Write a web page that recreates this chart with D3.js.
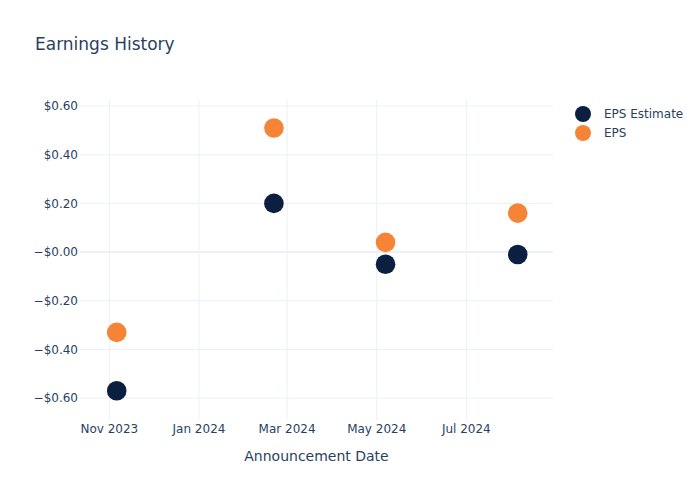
<!DOCTYPE html>
<html>
<head>
<meta charset="utf-8">
<script src="https://cdn.jsdelivr.net/npm/d3@7"></script>
<style>
  body { margin: 0; background: #fff; }
  svg text { font-family: "DejaVu Sans", Verdana, Arial, sans-serif; fill: #2a3f5f; }
</style>
</head>
<body>
<svg id="chart" width="700" height="500"></svg>
<script>
const dates = ["2023-11-06", "2024-02-21", "2024-05-07", "2024-08-05"];
const epsEstimate = [-0.57, 0.20, -0.05, -0.01];
const eps = [-0.33, 0.51, 0.04, 0.16];
const yTickValues = [0.6, 0.4, 0.2, 0, -0.2, -0.4, -0.6];
const yTickLabels = ["$0.60", "$0.40", "$0.20", "\u2212$0.00", "\u2212$0.20", "\u2212$0.40", "\u2212$0.60"];
const xTickDates = ["2023-11-01", "2024-01-01", "2024-03-01", "2024-05-01", "2024-07-01"];
const xTickLabels = ["Nov 2023", "Jan 2024", "Mar 2024", "May 2024", "Jul 2024"];
const seriesNames = ["EPS Estimate", "EPS"];
const seriesColors = ["#0b1f41", "#f58436"];

const parse = d3.utcParse("%Y-%m-%d");
const svg = d3.select("#chart");
const m = { left: 80, right: 553, top: 100, bottom: 420 };

const x = d3.scaleUtc()
  .domain([parse("2023-10-12"), parse("2024-08-29")])
  .range([m.left, m.right]);
const y = d3.scaleLinear()
  .domain([-0.69, 0.625])
  .range([m.bottom, m.top]);

// grid
const g = svg.append("g");
g.selectAll(".vg").data(xTickDates).join("line")
  .attr("x1", d => x(parse(d))).attr("x2", d => x(parse(d)))
  .attr("y1", m.top).attr("y2", m.bottom)
  .attr("stroke", "#ebf0f8").attr("stroke-width", 1);
g.selectAll(".hg").data(yTickValues).join("line")
  .attr("x1", m.left).attr("x2", m.right)
  .attr("y1", d => y(d)).attr("y2", d => y(d))
  .attr("stroke", "#ebf0f8").attr("stroke-width", d => d === 0 ? 2 : 1);

// y axis labels
svg.append("g").selectAll("text").data(yTickValues).join("text")
  .attr("x", 78).attr("y", d => y(d)).attr("dy", "0.35em")
  .attr("text-anchor", "end").attr("font-size", 12)
  .text((d, i) => yTickLabels[i]);

// x axis labels
svg.append("g").selectAll("text").data(xTickDates).join("text")
  .attr("x", d => x(parse(d))).attr("y", 433)
  .attr("text-anchor", "middle").attr("font-size", 12)
  .text((d, i) => xTickLabels[i]);

// title
svg.append("text").attr("x", 35).attr("y", 50).attr("font-size", 17).text("Earnings History");
svg.append("text").attr("x", (m.left + m.right) / 2).attr("y", 461)
  .attr("text-anchor", "middle").attr("font-size", 14).text("Announcement Date");

// points
const series = [epsEstimate, eps];
series.forEach((vals, si) => {
  svg.append("g").selectAll("circle").data(vals).join("circle")
    .attr("cx", (d, i) => x(parse(dates[i])))
    .attr("cy", d => y(d))
    .attr("r", 9.8)
    .attr("fill", seriesColors[si]);
});

// legend
const lg = svg.append("g");
seriesNames.forEach((n, i) => {
  lg.append("circle").attr("cx", 583).attr("cy", 114 + i * 19).attr("r", 8).attr("fill", seriesColors[i]);
  lg.append("text").attr("x", 604).attr("y", 114 + i * 19).attr("dy", "0.35em").attr("font-size", 12).text(n);
});
</script>
</body>
</html>
